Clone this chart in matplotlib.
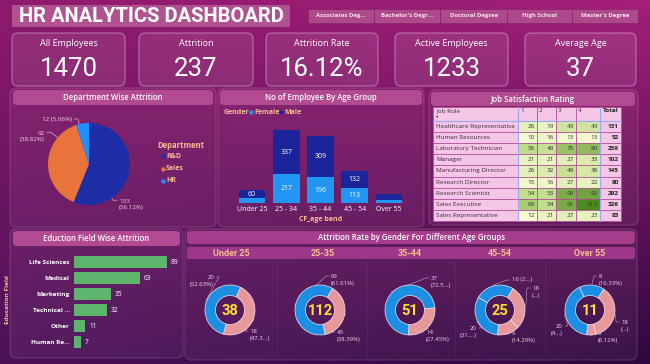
import numpy as np
import matplotlib
matplotlib.use('Agg')
import matplotlib.pyplot as plt
from matplotlib.patches import FancyBboxPatch, Rectangle
from matplotlib.colors import LinearSegmentedColormap, Normalize, to_rgb

plt.rcParams['font.family'] = ['Open Sans', 'DejaVu Sans']

# ---------------- data ----------------
dashboard_title = 'HR ANALYTICS DASHBOARD'
slicer_labels = ["Associates Deg...", "Bachelor's Degr...", "Doctoral Degree", "High School", "Master's Degree"]
kpi_titles = ['All Employees', 'Attrition', 'Attrition Rate', 'Active Employees', 'Average Age']
kpi_values = ['1470', '237', '16.12%', '1233', '37']

dept_names = ['R&D', 'Sales', 'HR']
dept_attrition = [133, 92, 12]
dept_labels = ['133\n(56.12%)', '92\n(38.82%)', '12 (5.06%)']

age_bands = ['Under 25', '25 - 34', '35 - 44', '45 - 54', 'Over 55']
age_female = [38, 217, 196, 113, 26]
age_male = [60, 337, 309, 132, 43]

job_roles = ['Healthcare Representative', 'Human Resources', 'Laboratory Technician', 'Manager',
             'Manufacturing Director', 'Research Director', 'Research Scientist', 'Sales Executive',
             'Sales Representative']
job_levels = ['1', '2', '3', '4']
job_sat = [[26, 19, 43, 43],
           [10, 16, 13, 13],
           [56, 48, 75, 80],
           [21, 21, 27, 33],
           [26, 32, 49, 38],
           [15, 16, 27, 22],
           [54, 53, 90, 95],
           [69, 54, 91, 112],
           [12, 21, 27, 23]]
job_total = [131, 52, 259, 102, 145, 80, 292, 326, 83]

edu_fields = ['Life Sciences', 'Medical', 'Marketing', 'Technical ...', 'Other', 'Human Re...']
edu_attrition = [89, 63, 35, 32, 11, 7]

donut_groups = ['Under 25', '25-35', '35-44', '45-54', 'Over 55']
donut_totals = [38, 112, 51, 25, 11]
donut_values = [[18, 20], [43, 69], [14, 37], [16, 18, 9, 20], [8, 18, 3, 20]]
donut_kinds = [['P', 'B'], ['P', 'B'], ['P', 'B'], ['B', 'P', 'P', 'B'], ['B', 'P', 'P', 'B']]
donut_texts = [['18\n(47.3...)', '20\n(52.63%)'],
               ['43\n(38.39%)', '69\n(61.61%)'],
               ['14\n(27.45%)', '37\n(72.5...)'],
               ['16 (2...)', '18\n(...)', '9\n(14.29%)', '20\n(31....)'],
               ['8\n(16.33%)', '18\n(...)', '3\n(6.12%)', '20\n(4...)']]

# ---------------- layout / style ----------------
W, H = 650, 364
WHITE = '#FFFFFF'
PEACH = '#F6BF8E'
LBL = '#F3D6E6'
TITLEBAR = '#B24A91'
DEPT_COLORS = ['#1C2DA6', '#E8743B', '#1E90FF']
FEMALE = '#2196F3'
MALE = '#1B2599'
EDU = '#5DB56D'
DBLUE = '#1A8FE3'
DPINK = '#E8979A'
YELLOW = '#FFE033'
PINKCELL = '#F6C6E6'

fig = plt.figure(figsize=(W / 100, H / 100), dpi=100)
base = fig.add_axes([0, 0, 1, 1])
base.axis('off')

c_tl, c_tr, c_bl, c_br = [np.array(to_rgb(c)) for c in ('#8E1A6D', '#A41F7A', '#4C1058', '#2E0840')]
gy, gx = np.mgrid[0:1:200j, 0:1:300j]
img = (c_tl * ((1 - gx) * (1 - gy))[..., None] + c_tr * (gx * (1 - gy))[..., None]
       + c_bl * ((1 - gx) * gy)[..., None] + c_br * (gx * gy)[..., None])
base.imshow(img, extent=[0, W, H, 0], aspect='auto', zorder=0, interpolation='bilinear')
base.set_xlim(0, W)
base.set_ylim(H, 0)


def rbox(x0, y0, x1, y1, fc, ec='none', r=4, lw=0.8, z=1):
    p = FancyBboxPatch((x0, y0), x1 - x0, y1 - y0, boxstyle=f'round,pad=0,rounding_size={r}',
                       fc=fc, ec=ec, lw=lw, zorder=z)
    base.add_patch(p)


def sub_axes(x0, y0, x1, y1):
    ax = fig.add_axes([x0 / W, 1 - y1 / H, (x1 - x0) / W, (y1 - y0) / H])
    ax.set_facecolor('none')
    return ax


# ---- title & slicer
rbox(12, 5, 290, 27, fc='#B0528F', r=0)
base.text(151, 16.5, dashboard_title, family=['Roboto', 'DejaVu Sans'],
          fontweight='bold', fontsize=14.5, color=WHITE, ha='center', va='center', zorder=3)
slicer_edges = [308, 374, 440, 507, 572, 638]
for i, lab in enumerate(slicer_labels):
    x0, x1 = slicer_edges[i], slicer_edges[i + 1]
    base.add_patch(Rectangle((x0, 9), x1 - x0, 14, fc='#AE4A8C', ec='#8E2470', lw=0.6, zorder=1))
    base.text((x0 + x1) / 2, 16, lab, fontsize=4.3, fontweight='bold', color='#F6E2EE',
              ha='center', va='center', zorder=3)

# ---- KPI cards
kpi_x = [(12, 125), (139, 253), (266, 378), (395, 508), (525, 636)]
for (x0, x1), t, v in zip(kpi_x, kpi_titles, kpi_values):
    rbox(x0, 33, x1, 86, fc=(1, 1, 1, 0.09), ec=(1, 1, 1, 0.35), r=6)
    base.text((x0 + x1) / 2, 43.5, t, fontsize=6.5, color=WHITE, ha='center', va='center', zorder=3)
    base.text((x0 + x1) / 2, 69, v, family=['Roboto', 'DejaVu Sans'], fontsize=18.5, color=WHITE,
              ha='center', va='center', zorder=3)

# ---- panels
panels = [((10, 88, 216, 227), (13, 90, 213, 105), 'Department Wise Attrition'),
          ((218, 88, 424, 227), (220, 90, 422, 105), 'No of Employee By Age Group'),
          ((429, 90, 638, 225), (431, 92, 635, 106), 'Job Satisfaction Rating'),
          ((10, 229, 183, 358), (13, 231, 180, 246), 'Eduction Field Wise Attrition'),
          ((185, 229, 637, 360), (187, 231, 635, 244), 'Attrition Rate by Gender For Different Age Groups')]
for (p, tb, txt) in panels:
    rbox(*p, fc=(1, 1, 1, 0.05), ec=(1, 1, 1, 0.15), r=6)
    rbox(*tb, fc=TITLEBAR if txt[0] != 'A' else '#A63C8C', r=4)
    base.text((tb[0] + tb[2]) / 2, (tb[1] + tb[3]) / 2, txt, fontsize=5.6, fontweight='semibold',
              color=WHITE, ha='center', va='center', zorder=3)

# ---- department pie
pcx, pcy, pr = 89, 164, 41
pax = sub_axes(pcx - pr, pcy - pr, pcx + pr, pcy + pr)
wedges, _ = pax.pie(dept_attrition, colors=DEPT_COLORS, startangle=90, counterclock=False,
                    radius=1, wedgeprops=dict(lw=0))
pax.set_xlim(-1, 1)
pax.set_ylim(-1, 1)
pie_label_pos = [(119, 204.5, 'left'), (45, 136.5, 'right'), (72, 119, 'right')]
for lab, (lx, ly, ha) in zip(dept_labels, pie_label_pos):
    base.text(lx, ly, lab, fontsize=4.5, color=LBL, ha=ha, va='center', multialignment=ha,
              linespacing=1.25, zorder=3)
    first_y = ly - (4.3 if '\n' in lab else 0)
    sx = lx + (2 if ha == 'right' else -2)
    ex = sx + (4 if ha == 'right' else -4)
    d = np.array([ex - pcx, first_y - pcy])
    cp = np.array([pcx, pcy]) + pr * d / np.hypot(*d)
    base.plot([sx, ex, cp[0]], [first_y, first_y, cp[1]], color=LBL, lw=0.4, zorder=3)
base.text(157, 145, 'Department', fontsize=5.5, fontweight='bold', color=PEACH, va='center', zorder=3)
for i, (n, c) in enumerate(zip(dept_names, DEPT_COLORS)):
    yy = 156 + i * 12.5
    base.scatter([163], [yy], s=10, color=c, zorder=3, linewidths=0)
    base.text(166, yy, n, fontsize=5, fontweight='bold', color=PEACH, va='center', zorder=3)

# ---- age group stacked bars
aax = sub_axes(235, 118, 406, 203)
xi = np.arange(len(age_bands))
aax.bar(xi, age_female, width=0.78, color=FEMALE)
aax.bar(xi, age_male, bottom=age_female, width=0.78, color=MALE)
aax.set_xlim(-0.5, len(age_bands) - 0.5)
aax.set_ylim(0, 85 / 0.132)
for i in xi:
    if age_female[i] >= 50:
        aax.text(i, age_female[i] / 2, str(age_female[i]), color=WHITE, fontsize=5, ha='center', va='center')
    if age_male[i] >= 50:
        aax.text(i, age_female[i] + age_male[i] / 2, str(age_male[i]), color=WHITE, fontsize=5,
                 ha='center', va='center')
aax.set_xticks(xi, age_bands)
aax.tick_params(axis='x', length=0, pad=2, labelsize=5, labelcolor=WHITE)
aax.set_yticks([])
for s in aax.spines.values():
    s.set_visible(False)
aax.set_xlabel('CF_age band', fontsize=5, fontweight='bold', color=PEACH, labelpad=2)
base.text(224, 112, 'Gender', fontsize=5, fontweight='bold', color=PEACH, va='center', zorder=3)
for lx, nm, c in [(251, 'Female', FEMALE), (281, 'Male', MALE)]:
    base.scatter([lx], [112], s=10, color=c, zorder=3, linewidths=0)
    base.text(lx + 3, 112, nm, fontsize=5, fontweight='bold', color=PEACH, va='center', zorder=3)

# ---- job satisfaction table
col_edges = [433, 518, 537, 556, 576, 600, 621]
hdr_top, hdr_bot, row_h = 107, 121, 11.1
cmap = LinearSegmentedColormap.from_list('g', ['#F6FAD2', '#B9D982', '#4B8B1E'])
vals = np.array(job_sat)
norm = Normalize(vals.min(), vals.max())
EDGE = '#B5489A'
for j in range(len(col_edges) - 1):
    base.add_patch(Rectangle((col_edges[j], hdr_top), col_edges[j + 1] - col_edges[j], hdr_bot - hdr_top,
                             fc=PINKCELL, ec=EDGE, lw=0.5, zorder=2))
base.text(436, 111, 'Job Role', fontsize=4.6, color='#3A2A3A', va='center', zorder=3)
base.text(437, 117, '▲', fontsize=2.2, color='#3A2A3A', va='center', ha='center', zorder=3,
          family='DejaVu Sans')
for j, lv in enumerate(job_levels):
    base.text(col_edges[j + 1] + 2, 111, lv, fontsize=4.6, color='#3A2A3A', va='center', zorder=3)
base.text(col_edges[-1] - 2, 111, 'Total', fontsize=4.6, fontweight='bold', color='#222222',
          va='center', ha='right', zorder=3)
for r, role in enumerate(job_roles):
    y0 = hdr_bot + r * row_h
    yc = y0 + row_h / 2
    base.add_patch(Rectangle((col_edges[0], y0), col_edges[1] - col_edges[0], row_h,
                             fc=PINKCELL, ec=EDGE, lw=0.5, zorder=2))
    base.text(436, yc, role, fontsize=4.6, color='#3A2A3A', va='center', zorder=3)
    for j, v in enumerate(job_sat[r]):
        x0, x1 = col_edges[j + 1], col_edges[j + 2]
        base.add_patch(Rectangle((x0, y0), x1 - x0, row_h, fc=cmap(norm(v)), ec=EDGE, lw=0.5, zorder=2))
        base.text(x1 - 2, yc, str(v), fontsize=4.6, color='#333333', va='center', ha='right', zorder=3)
    base.add_patch(Rectangle((col_edges[-2], y0), col_edges[-1] - col_edges[-2], row_h,
                             fc=PINKCELL, ec=EDGE, lw=0.5, zorder=2))
    base.text(col_edges[-1] - 2, yc, str(job_total[r]), fontsize=4.6, fontweight='bold', color='#222222',
              va='center', ha='right', zorder=3)
tbl_bot = hdr_bot + len(job_roles) * row_h
for xe in (col_edges[1], col_edges[-2]):
    base.plot([xe, xe], [hdr_top, tbl_bot], color='#9AAAF0', lw=0.8, zorder=3)
base.plot([col_edges[0], col_edges[-1]], [hdr_bot, hdr_bot], color='#9AAAF0', lw=0.8, zorder=3)

# ---- education bars
eax = sub_axes(74, 254, 180, 350)
ye = np.arange(len(edu_fields))
eax.barh(ye, edu_attrition, height=0.72, color=EDU)
eax.set_ylim(len(edu_fields) - 0.5, -0.5)
eax.set_xlim(0, 106 / 1.045)
for y, v in zip(ye, edu_attrition):
    eax.text(v + 3.5, y, str(v), color=WHITE, fontsize=4.8, va='center')
eax.set_yticks(ye, edu_fields)
eax.tick_params(axis='y', length=0, pad=3, labelsize=4.6, labelcolor=WHITE)
for t in eax.get_yticklabels():
    t.set_fontweight('bold')
eax.set_xticks([])
for s in eax.spines.values():
    s.set_visible(False)
base.text(8, 300, 'Education Field', rotation=90, fontsize=4.6, fontweight='bold', color=PEACH,
          ha='center', va='center', zorder=3)

# ---- donuts
rbox(187, 247, 635, 259, fc='#9C3789', r=2)
donut_cx = [230, 320, 410, 500, 590]
header_x = [231, 323, 410, 500, 590]
donut_cy = 310
donut_r = 25
donut_start = [65, 60, 5, 150, 115]
donut_label_pos = [[(20, 25, 'left'), (-16, -29, 'right')],
                   [(17, 26, 'left'), (11, -30, 'left')],
                   [(16, 26, 'left'), (21, -28, 'left')],
                   [(12, -30, 'left'), (32, -18, 'left'), (12, 27, 'left'), (-23, 22, 'right')],
                   [(9, -30, 'left'), (31, 16, 'left'), (8, 27, 'left'), (-27, 20, 'right')]]
for xs in (277, 367, 455, 545):
    base.plot([xs, xs], [262, 356], color=(1, 1, 1, 0.06), lw=0.6, zorder=1)
for i in range(len(donut_groups)):
    cx = donut_cx[i]
    base.text(header_x[i], 253, donut_groups[i], fontsize=6.5, fontweight='bold', color=PEACH,
              family=['Roboto', 'DejaVu Sans'], ha='center', va='center', zorder=3)
    dax = sub_axes(cx - 26, donut_cy - 26, cx + 26, donut_cy + 26)
    cols = [DBLUE if k == 'B' else DPINK for k in donut_kinds[i]]
    ws, _ = dax.pie(donut_values[i], colors=cols, startangle=donut_start[i], counterclock=False, radius=1,
                    wedgeprops=dict(width=0.42, edgecolor='#F4E6F0', lw=0.5))
    dax.set_xlim(-1.04, 1.04)
    dax.set_ylim(-1.04, 1.04)
    base.text(cx, donut_cy + 1, str(donut_totals[i]), fontsize=10.5, fontweight='bold', color=YELLOW,
              family=['Roboto', 'DejaVu Sans'], ha='center', va='center', zorder=4)
    for w, txt, (dx, dy, ha) in zip(ws, donut_texts[i], donut_label_pos[i]):
        lx, ly = cx + dx, donut_cy + dy
        base.text(lx, ly, txt, fontsize=4.3, color=LBL, ha=ha, va='center', multialignment=ha,
                  linespacing=1.3, zorder=3)
        mid = np.deg2rad((w.theta1 + w.theta2) / 2)
        px, py = cx + (donut_r + 1) * np.cos(mid), donut_cy - (donut_r + 1) * np.sin(mid)
        fy = ly - (4 if '\n' in txt else 0)
        sx = lx - 2 if ha == 'left' else lx + 2
        ex = sx - 3 if ha == 'left' else sx + 3
        base.plot([sx, ex, px], [fy, fy, py], color=LBL, lw=0.35, zorder=3, alpha=0.8)

fig.savefig('out.png', dpi=100)
